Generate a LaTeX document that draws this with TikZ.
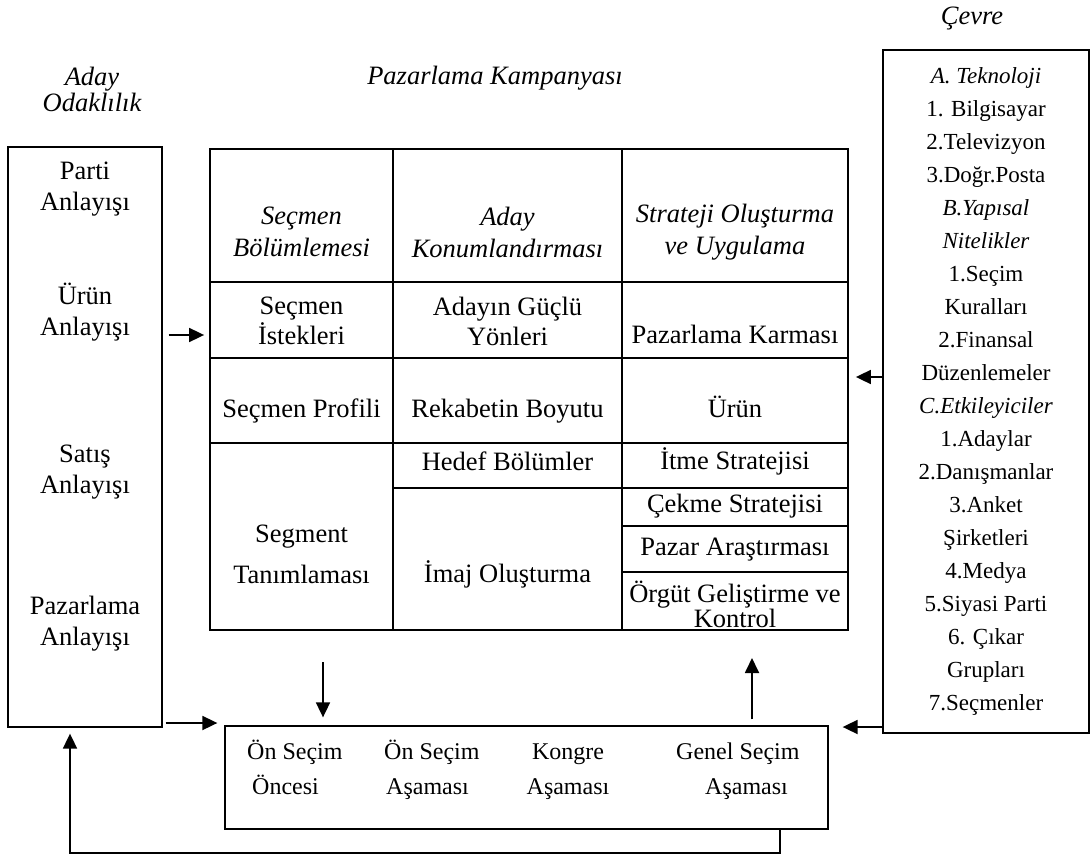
\documentclass[tikz,border=0pt]{standalone}
\usepackage{fontspec}
\setmainfont{Liberation Serif}
\usetikzlibrary{arrows.meta,positioning}

\newcommand\bodyfont{\fontsize{26.5}{31}\selectfont}
\newcommand\envfont{\fontsize{23}{33}\selectfont}
\newcommand\stagefont{\fontsize{24}{35}\selectfont}

\begin{document}
\begin{tikzpicture}[x=1pt,y=-1pt,
  txt/.style={font=\bodyfont,align=center,inner sep=0pt},
  one/.style={text height=0.7em,text depth=0.2em},
  ttl/.style={font=\fontsize{26.5}{26}\selectfont\itshape,align=center,inner sep=0pt},
  hdr/.style={font=\fontsize{26.5}{32}\selectfont\itshape,align=center,inner sep=0pt},
  stg/.style={font=\stagefont,anchor=west,inner sep=0pt,text height=0.7em,text depth=0.2em},
  box/.style={draw,line width=1.3pt,inner sep=0pt},
  grid/.style={line width=1.8pt},
  a/.style={-{Triangle[length=15pt,width=14pt]},line width=1.8pt}
]
  \useasboundingbox (0,0) rectangle (1090,856);

  % titles
  \node[ttl] (tAday) at (92,89) {Aday\\Odakl\i l\i k};
  \node[ttl,one] (tKamp) at (495,82) {Pazarlama Kampanyası};
  \node[ttl,one] (tCevre) at (972,22) {Çevre};

  % left box
  \node[box,minimum width=154pt,minimum height=580pt] (aday) at (85,437) {};
  \node[txt] (parti) at (85,189) {Parti\\Anlayışı};
  \node[txt] (urun) at (85,312) {Ürün\\Anlayışı};
  \node[txt] (satis) at (85,472) {Satış\\Anlayışı};
  \node[txt] (pazar) at (85,624) {Pazarlama\\Anlayışı};

  % campaign table
  \node[draw,grid,minimum width=638pt,minimum height=481pt,inner sep=0pt] (tbl) at (529,389.5) {};
  \foreach \x in {393,622}
    {\draw[grid] (\x,149) -- (\x,630);}
  \foreach \y in {282,358,443}
    {\draw[grid] (210,\y) -- (848,\y);}
  \draw[grid] (393,488) -- (848,488);
  \foreach \y in {526,572}
    {\draw[grid] (622,\y) -- (848,\y);}

  \node[hdr] (hSeg) at (301.5,232) {Seçmen\\Bölümlemesi};
  \node[hdr] (hPos) at (507.5,232) {Aday\\Konumlandırması};
  \node[hdr] (hStr) at (735,232) {Strateji Oluşturma\\ve Uygulama};

  \node[txt,font=\fontsize{26.5}{30}\selectfont] (cIst) at (301.5,321) {Seçmen\\İstekleri};
  \node[txt,font=\fontsize{26.5}{30}\selectfont] (cGuc) at (507.5,321) {Adayın Güçlü\\Yönleri};
  \node[txt,one] (cKar) at (735,341) {Pazarlama Karması};

  \node[txt,one] (cPro) at (301.5,415) {Seçmen Profili};
  \node[txt,one] (cRek) at (507.5,415) {Rekabetin Boyutu};
  \node[txt,one] (cUrn) at (735,415) {Ürün};

  \node[txt,one] (cHed) at (507.5,468) {Hedef Bölümler};
  \node[txt,one] (cItm) at (735,467) {İtme Stratejisi};
  \node[txt,font=\fontsize{26.5}{41}\selectfont] (cTan) at (301.5,554) {Segment\\Tanımlaması};
  \node[txt,one] (cImj) at (507.5,580) {İmaj Oluşturma};
  \node[txt,one] (cCek) at (735,510) {Çekme Stratejisi};
  \node[txt,one] (cAra) at (735,553) {Pazar Araştırması};
  \node[txt,font=\fontsize{26.5}{25}\selectfont] (cOrg) at (735,604) {Örgüt Geliştirme ve\\Kontrol};

  % environment box
  \node[box,minimum width=206pt,minimum height=683pt,align=center,font=\envfont] (env) at (986,391.5)
    {\textit{A. Teknoloji}\\1. Bilgisayar\\2.Televizyon\\3.Doğr.Posta\\\textit{B.Yapısal}\\\textit{Nitelikler}\\
     1.Seçim\\Kuralları\\2.Finansal\\Düzenlemeler\\\textit{C.Etkileyiciler}\\1.Adaylar\\2.Danışmanlar\\
     3.Anket\\Şirketleri\\4.Medya\\5.Siyasi Parti\\6. Çıkar\\Grupları\\7.Seçmenler};

  % election stages
  \node[box,minimum width=603pt,minimum height=103pt] (stages) at (526.5,777.5) {};
  \node[stg] (s1a) at (247,757) {Ön Seçim};
  \node[stg] (s1b) at (252,792) {Öncesi};
  \node[stg] (s2a) at (384,757) {Ön Seçim};
  \node[stg] (s2b) at (386,792) {Aşaması};
  \node[stg,anchor=center] (s3a) at (568,757) {Kongre};
  \node[stg,anchor=center] (s3b) at (568,792) {Aşaması};
  \node[stg] (s4a) at (676,757) {Genel Seçim};
  \node[stg] (s4b) at (705,792) {Aşaması};

  % connectors
  \coordinate (inA) at (0,335);
  \coordinate (inE) at (0,377);
  \coordinate (inS) at (0,723);
  \coordinate (inF) at (0,727);
  \coordinate (dnA) at (323,662);
  \coordinate (upB) at (752,658);
  \coordinate (loopR) at (780,853);
  \coordinate (loopL) at (70,853);
  \draw[a,shorten <=6pt,shorten >=5pt] (aday.east |- inA) -- (tbl.west |- inA);
  \draw[a,shorten >=7pt] (env.west |- inE) -- (tbl.east |- inE);
  \draw[a,shorten <=3pt,shorten >=7pt] (aday.east |- inS) -- (stages.west |- inS);
  \draw[a,shorten >=14pt] (env.west |- inF) -- (stages.east |- inF);
  \draw[a,shorten >=8pt] (dnA) -- (dnA |- stages.north);
  \draw[a,shorten <=6pt] (upB |- stages.north) -- (upB);
  \draw[a,shorten >=6pt] (stages.south -| loopR) -- (loopR) -- (loopL) -- (aday.south -| loopL);
\end{tikzpicture}
\end{document}
